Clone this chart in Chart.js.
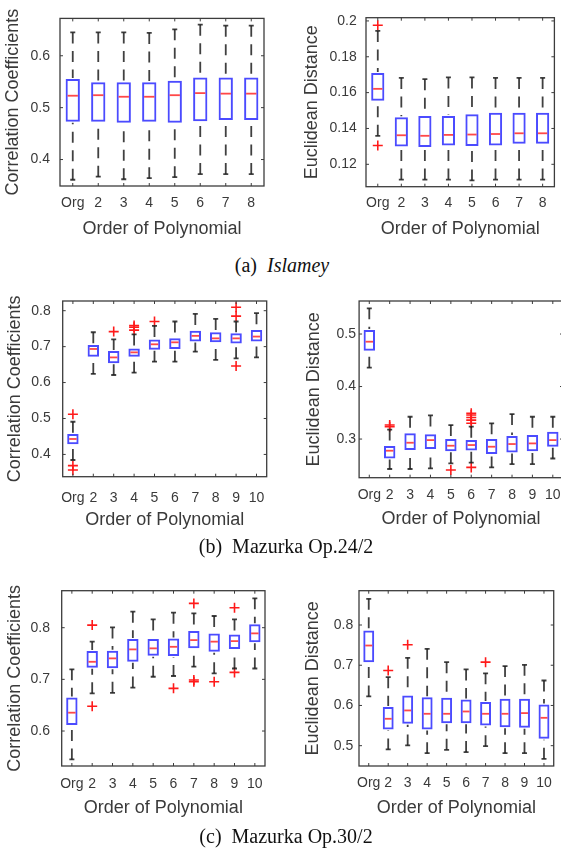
<!DOCTYPE html>
<html>
<head>
<meta charset="utf-8">
<script src="https://cdn.jsdelivr.net/npm/chart.js@4.4.0/dist/chart.umd.min.js"></script>
<style>
  body { margin: 0; width: 561px; height: 859px; overflow: hidden; background: #fff; position: relative; }
  canvas { position: absolute; }
  .cap { position: absolute; font-family: "Liberation Serif", "Times New Roman", serif; font-size: 20px; color: #111;
         transform: translate(-50%, -50%); white-space: nowrap; }
</style>
</head>
<body>
<canvas id="islameyCorr" width="280" height="250" style="left:0;top:0"></canvas>
<canvas id="islameyDist" width="281" height="250" style="left:280px;top:0"></canvas>
<div class="cap" style="left:282px;top:265px">(a)&nbsp;&nbsp;<i>Islamey</i></div>

<canvas id="maz24Corr" width="280" height="260" style="left:0;top:280px"></canvas>
<canvas id="maz24Dist" width="300" height="260" style="left:280px;top:280px"></canvas>
<div class="cap" style="left:286px;top:546px">(b)&nbsp;&nbsp;Mazurka Op.24/2</div>

<canvas id="maz30Corr" width="280" height="270" style="left:0;top:560px"></canvas>
<canvas id="maz30Dist" width="281" height="270" style="left:280px;top:560px"></canvas>
<div class="cap" style="left:286px;top:836px">(c)&nbsp;&nbsp;Mazurka Op.30/2</div>

<script>
var labels8 = ['Org', '2', '3', '4', '5', '6', '7', '8'];
var labels10 = ['Org', '2', '3', '4', '5', '6', '7', '8', '9', '10'];

// each box: [lower whisker, q1, median, q3, upper whisker]
var islameyCorrBoxes = [
  [0.361, 0.473, 0.523, 0.555, 0.645],
  [0.367, 0.473, 0.524, 0.549, 0.645],
  [0.362, 0.471, 0.521, 0.549, 0.645],
  [0.364, 0.473, 0.521, 0.549, 0.644],
  [0.366, 0.471, 0.524, 0.552, 0.651],
  [0.372, 0.474, 0.528, 0.558, 0.660],
  [0.372, 0.476, 0.527, 0.558, 0.658],
  [0.372, 0.476, 0.527, 0.558, 0.658]
];
var islameyCorrOut = [];

var islameyDistBoxes = [
  [0.1359, 0.1554, 0.1621, 0.1710, 0.1944],
  [0.1115, 0.1300, 0.1362, 0.1462, 0.1682],
  [0.1115, 0.1296, 0.1359, 0.1469, 0.1675],
  [0.1115, 0.1305, 0.1364, 0.1470, 0.1685],
  [0.1110, 0.1302, 0.1366, 0.1479, 0.1685],
  [0.1115, 0.1305, 0.1369, 0.1488, 0.1682],
  [0.1115, 0.1314, 0.1373, 0.1488, 0.1682],
  [0.1115, 0.1314, 0.1373, 0.1488, 0.1682]
];
var islameyDistOut = [['Org', 0.1976], ['Org', 0.1305]];

var maz24CorrBoxes = [
  [0.3845, 0.428, 0.443, 0.457, 0.491],
  [0.624, 0.672, 0.6935, 0.7046, 0.740],
  [0.621, 0.6536, 0.670, 0.688, 0.720],
  [0.6276, 0.672, 0.684, 0.695, 0.734],
  [0.658, 0.691, 0.7065, 0.720, 0.7575],
  [0.658, 0.6935, 0.712, 0.723, 0.770],
  [0.686, 0.714, 0.730, 0.7445, 0.791],
  [0.663, 0.712, 0.723, 0.740, 0.777],
  [0.6675, 0.709, 0.723, 0.737, 0.770],
  [0.670, 0.714, 0.728, 0.7465, 0.793]
];
var maz24CorrOut = [
  ['Org', 0.5116], ['Org', 0.3687], ['Org', 0.3566],
  ['3', 0.7418],
  ['4', 0.7585], ['4', 0.754], ['4', 0.746],
  ['5', 0.770],
  ['9', 0.8095], ['9', 0.785], ['9', 0.646]
];

var maz24DistBoxes = [
  [0.436, 0.468, 0.4854, 0.5076, 0.549],
  [0.243, 0.2632, 0.2778, 0.2867, 0.318],
  [0.243, 0.279, 0.293, 0.311, 0.3425],
  [0.244, 0.281, 0.298, 0.309, 0.345],
  [0.2537, 0.277, 0.2873, 0.300, 0.3267],
  [0.255, 0.278, 0.2886, 0.298, 0.3235],
  [0.246, 0.2714, 0.2854, 0.300, 0.330],
  [0.2524, 0.2746, 0.2905, 0.3057, 0.3476],
  [0.2524, 0.277, 0.2917, 0.3076, 0.3425],
  [0.263, 0.2854, 0.298, 0.314, 0.3425]
];
var maz24DistOut = [
  ['2', 0.3267], ['2', 0.3235],
  ['5', 0.241],
  ['6', 0.349], ['6', 0.3457], ['6', 0.341], ['6', 0.336], ['6', 0.330], ['6', 0.246]
];

var maz30CorrBoxes = [
  [0.545, 0.6116, 0.6355, 0.665, 0.7194],
  [0.673, 0.7226, 0.734, 0.755, 0.773],
  [0.674, 0.7213, 0.7406, 0.7555, 0.8006],
  [0.684, 0.734, 0.758, 0.778, 0.831],
  [0.705, 0.7458, 0.760, 0.778, 0.816],
  [0.7065, 0.745, 0.763, 0.779, 0.829],
  [0.7245, 0.760, 0.776, 0.7935, 0.8277],
  [0.7116, 0.7535, 0.773, 0.789, 0.8226],
  [0.721, 0.7587, 0.774, 0.787, 0.816],
  [0.721, 0.7716, 0.789, 0.8065, 0.8568]
];
var maz30CorrOut = [
  ['2', 0.805], ['2', 0.648],
  ['6', 0.6826],
  ['7', 0.847], ['7', 0.6987], ['7', 0.6955],
  ['8', 0.6955],
  ['9', 0.8387], ['9', 0.7135]
];

var maz30DistBoxes = [
  [0.6224, 0.7077, 0.749, 0.7864, 0.865],
  [0.4906, 0.5403, 0.5669, 0.5959, 0.6704],
  [0.5006, 0.5544, 0.5876, 0.6249, 0.7185],
  [0.4815, 0.5403, 0.5793, 0.6207, 0.7408],
  [0.4898, 0.556, 0.5793, 0.619, 0.7077],
  [0.484, 0.556, 0.585, 0.615, 0.6895],
  [0.4989, 0.550, 0.5793, 0.6083, 0.680],
  [0.4815, 0.5461, 0.5793, 0.6166, 0.6978],
  [0.4815, 0.5445, 0.581, 0.6166, 0.701],
  [0.4674, 0.5171, 0.5693, 0.6025, 0.662]
];
var maz30DistOut = [['2', 0.687], ['3', 0.7508], ['7', 0.7077]];

var islameyCorrTicks = [0.4, 0.5, 0.6];
var islameyDistTicks = [0.12, 0.14, 0.16, 0.18, 0.2];
var maz24CorrTicks = [0.4, 0.5, 0.6, 0.7, 0.8];
var maz24DistTicks = [0.3, 0.4, 0.5];
var maz30CorrTicks = [0.6, 0.7, 0.8];
var maz30DistTicks = [0.5, 0.6, 0.7, 0.8];

var SANS = 'Liberation Sans, Arial, Helvetica, sans-serif';
var TICK_SIZE = 14, TITLE_SIZE = 18;
var TEXT = '#3a3a3a';

// whiskers, caps, medians, box frame and inward tick marks
function boxParts(boxes) {
  return {
    id: 'boxParts',
    afterDatasetsDraw: function(chart) {
      var ctx = chart.ctx, xs = chart.scales.x, ys = chart.scales.y, area = chart.chartArea;
      var bars = chart.getDatasetMeta(0).data;
      ctx.save();
      boxes.forEach(function(b, i) {
        var cx = bars[i].x, half = bars[i].width / 2;
        var lo = ys.getPixelForValue(b[0]), q1 = ys.getPixelForValue(b[1]),
            med = ys.getPixelForValue(b[2]), q3 = ys.getPixelForValue(b[3]),
            hi = ys.getPixelForValue(b[4]);
        ctx.strokeStyle = 'rgba(30,30,30,0.85)';
        ctx.lineWidth = 1.8;
        ctx.setLineDash([11, 7.5]);
        ctx.beginPath();
        ctx.moveTo(cx, hi); ctx.lineTo(cx, q3 - 1);
        ctx.moveTo(cx, lo); ctx.lineTo(cx, q1 + 1);
        ctx.stroke();
        ctx.setLineDash([]);
        ctx.beginPath();
        ctx.moveTo(cx - 2.5, hi); ctx.lineTo(cx + 2.5, hi);
        ctx.moveTo(cx - 2.5, lo); ctx.lineTo(cx + 2.5, lo);
        ctx.stroke();
        ctx.strokeStyle = 'rgba(255,40,40,0.85)';
        ctx.lineWidth = 1.8;
        ctx.beginPath();
        ctx.moveTo(cx - half + 2, med); ctx.lineTo(cx + half - 2, med);
        ctx.stroke();
      });
      ctx.strokeStyle = '#3c3c3c';
      ctx.lineWidth = 1.3;
      ctx.strokeRect(area.left, area.top, area.right - area.left, area.bottom - area.top);
      ctx.lineWidth = 1;
      ctx.beginPath();
      ys.ticks.forEach(function(t) {
        var py = ys.getPixelForValue(t.value);
        ctx.moveTo(area.left, py); ctx.lineTo(area.left + 3, py);
        ctx.moveTo(area.right - 3, py); ctx.lineTo(area.right, py);
      });
      xs.ticks.forEach(function(t, i) {
        var px = xs.getPixelForTick(i);
        ctx.moveTo(px, area.bottom); ctx.lineTo(px, area.bottom - 3);
        ctx.moveTo(px, area.top); ctx.lineTo(px, area.top + 3);
      });
      ctx.stroke();
      ctx.restore();
    }
  };
}

function boxChart(id, p) {
  var a = p.area;
  var lh = TITLE_SIZE * 1.2, th = TICK_SIZE * 1.2;
  return new Chart(document.getElementById(id), {
    type: 'bar',
    data: {
      labels: p.labels,
      datasets: [{
        data: p.boxes.map(function(b) { return [b[1], b[3]]; }),
        backgroundColor: 'rgba(0,0,0,0)',
        borderColor: 'rgba(30,30,255,0.8)',
        borderWidth: 2,
        borderSkipped: false,
        barPercentage: 0.56,
        categoryPercentage: 1,
        order: 2
      }, {
        type: 'line',
        data: p.out.map(function(o) { return { x: o[0], y: o[1] }; }),
        showLine: false,
        pointStyle: 'cross',
        pointRadius: 5,
        pointBorderWidth: 1.6,
        borderColor: '#ff1a1a',
        order: 0
      }]
    },
    options: {
      responsive: false,
      animation: false,
      events: [],
      layout: { padding: { top: a.t - p.top, right: p.left + p.w - a.r, bottom: 0, left: 0 } },
      plugins: { legend: { display: false }, tooltip: { enabled: false } },
      scales: {
        x: {
          grid: { display: false, drawTicks: false },
          border: { display: false },
          ticks: {
            autoSkip: false, maxRotation: 0, minRotation: 0,
            padding: p.xTickY - a.b - th / 2,
            color: TEXT, font: { family: SANS, size: TICK_SIZE }
          },
          title: {
            display: true, text: 'Order of Polynomial', color: TEXT,
            font: { family: SANS, size: TITLE_SIZE },
            padding: { top: 0, bottom: p.top + p.h - p.xTitleY - lh / 2 }
          },
          afterFit: function(s) { s.height = p.top + p.h - a.b; }
        },
        y: {
          min: p.min, max: p.max,
          grid: { display: false, drawTicks: false },
          border: { display: false },
          afterBuildTicks: function(s) { s.ticks = p.ticks.map(function(v) { return { value: v }; }); },
          ticks: {
            padding: a.l - p.yTickRight,
            color: TEXT, font: { family: SANS, size: TICK_SIZE },
            callback: function(v) { return String(v); }
          },
          title: {
            display: true, text: p.yTitle, color: TEXT,
            font: { family: SANS, size: TITLE_SIZE },
            padding: { top: p.yTitleX - p.left - lh / 2, bottom: 0 }
          },
          afterFit: function(s) { s.width = a.l - p.left; }
        }
      }
    },
    plugins: [boxParts(p.boxes)]
  });
}

boxChart('islameyCorr', {
  left: 0, top: 0, w: 280, h: 250, area: { l: 60, t: 10, r: 264, b: 186 },
  yTitleX: 13.5, yTickRight: 50, xTickY: 203, xTitleY: 229,
  labels: labels8, boxes: islameyCorrBoxes, out: islameyCorrOut,
  min: 0.349, max: 0.672, ticks: islameyCorrTicks, yTitle: 'Correlation Coefficients'
});
boxChart('islameyDist', {
  left: 280, top: 0, w: 281, h: 250, area: { l: 366, t: 10, r: 557.3, b: 186.7 },
  yTitleX: 311.7, yTickRight: 356.7, xTickY: 203, xTitleY: 229,
  labels: labels8, boxes: islameyDistBoxes, out: islameyDistOut,
  min: 0.1075, max: 0.2018, ticks: islameyDistTicks, yTitle: 'Euclidean Distance'
});
boxChart('maz24Corr', {
  left: 0, top: 280, w: 280, h: 260, area: { l: 62.7, t: 301, r: 266.7, b: 476.7 },
  yTitleX: 15, yTickRight: 50.7, xTickY: 498.3, xTitleY: 520,
  labels: labels10, boxes: maz24CorrBoxes, out: maz24CorrOut,
  min: 0.338, max: 0.827, ticks: maz24CorrTicks, yTitle: 'Correlation Coefficients'
});
boxChart('maz24Dist', {
  left: 280, top: 280, w: 300, h: 260, area: { l: 359.1, t: 301, r: 563, b: 477.7 },
  yTitleX: 314.3, yTickRight: 356, xTickY: 495, xTitleY: 519.3,
  labels: labels10, boxes: maz24DistBoxes, out: maz24DistOut,
  min: 0.2264, max: 0.5629, ticks: maz24DistTicks, yTitle: 'Euclidean Distance'
});
boxChart('maz30Corr', {
  left: 0, top: 560, w: 280, h: 270, area: { l: 61.7, t: 590.7, r: 265, b: 766 },
  yTitleX: 15, yTickRight: 50, xTickY: 784.3, xTitleY: 808.3,
  labels: labels10, boxes: maz30CorrBoxes, out: maz30CorrOut,
  min: 0.5323, max: 0.8716, ticks: maz30CorrTicks, yTitle: 'Correlation Coefficients'
});
boxChart('maz30Dist', {
  left: 280, top: 560, w: 281, h: 270, area: { l: 359, t: 590.7, r: 558, b: 766 },
  yTitleX: 313.3, yTickRight: 353.3, xTickY: 783.3, xTitleY: 808.3,
  labels: labels10, boxes: maz30DistBoxes, out: maz30DistOut,
  min: 0.4495, max: 0.8853, ticks: maz30DistTicks, yTitle: 'Euclidean Distance'
});
</script>
</body>
</html>
